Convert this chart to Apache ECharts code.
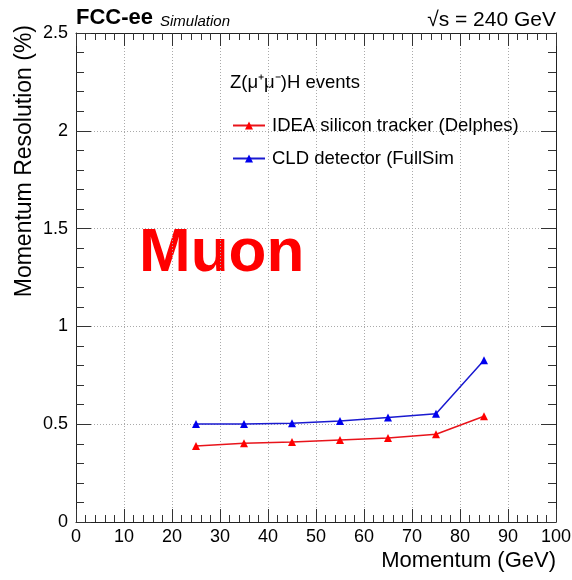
<!DOCTYPE html>
<html>
<head>
<meta charset="utf-8">
<script src="https://cdn.jsdelivr.net/npm/echarts@6/dist/echarts.min.js"></script>
<style>
html,body{margin:0;padding:0;background:#fff;}
#chart{width:572px;height:580px;}
</style>
</head>
<body>
<div id="chart"></div>
<script>
const momentum = [25, 35, 45, 55, 65, 75, 85];
const ideaRes = [0.389, 0.402, 0.409, 0.419, 0.429, 0.449, 0.541];
const cldRes = [0.501, 0.501, 0.505, 0.516, 0.534, 0.554, 0.827];
const seriesNames = ['IDEA silicon tracker (Delphes)', 'CLD detector (FullSim'];

const chart = echarts.init(document.getElementById('chart'));
const FONT = 'Liberation Sans, Arial, Helvetica, sans-serif';

function pairs(xs, ys){ return xs.map((x,i)=>[x, ys[i]]); }

const tickStyle = {color:'#333', width:1};
const baseX = {
  type:'value', min:0, max:100, interval:10,
  axisLine:{show:true, onZero:false, lineStyle:{color:'#222', width:1}},
  axisTick:{show:true, inside:true, length:13, lineStyle:tickStyle},
  minorTick:{show:true, splitNumber:5, length:7, lineStyle:tickStyle},
};
const baseY = {
  type:'value', min:0, max:2.5, interval:0.5,
  axisLine:{show:true, onZero:false, lineStyle:{color:'#222', width:1}},
  axisTick:{show:true, inside:true, length:15, lineStyle:tickStyle},
  minorTick:{show:true, splitNumber:5, length:8, lineStyle:tickStyle},
};

chart.setOption({
  animation:false,
  backgroundColor:'#fff',
  grid:{left:76, right:16, top:33, bottom:58, containLabel:false, outerBoundsMode:'none'},
  xAxis:[
    Object.assign({}, baseX, {
      position:'bottom',
      axisLabel:{show:true, fontFamily:FONT, fontSize:18, color:'#000', margin:6},
      splitLine:{show:true, lineStyle:{color:'#aaa', type:[1,2], width:1}}
    }),
    Object.assign({}, baseX, {
      position:'top',
      axisLabel:{show:false}, splitLine:{show:false}
    })
  ],
  yAxis:[
    Object.assign({}, baseY, {
      position:'left',
      axisLabel:{show:true, fontFamily:FONT, fontSize:18, color:'#000', margin:8},
      splitLine:{show:true, lineStyle:{color:'#aaa', type:[1,2], width:1}}
    }),
    Object.assign({}, baseY, {
      position:'right',
      axisLabel:{show:false}, splitLine:{show:false}
    })
  ],
  legend:{
    orient:'vertical', left:227, top:111, itemGap:14,
    itemWidth:32, itemHeight:10,
    textStyle:{fontFamily:FONT, fontSize:18.5, color:'#000', padding:[0,0,0,2]},
    data:seriesNames
  },
  series:[
    {
      name:seriesNames[0], type:'line', xAxisIndex:0, yAxisIndex:0,
      data:pairs(momentum, ideaRes),
      symbol:'triangle', symbolSize:8,
      lineStyle:{color:'#e8141b', width:1.5},
      itemStyle:{color:'#f00'}
    },
    {
      name:seriesNames[1], type:'line', xAxisIndex:0, yAxisIndex:0,
      data:pairs(momentum, cldRes),
      symbol:'triangle', symbolSize:8,
      lineStyle:{color:'#1a1ad0', width:1.5},
      itemStyle:{color:'#0000ee'}
    }
  ],
  graphic:[
    {type:'text', x:76, y:29, style:{text:'FCC-ee', font:'bold 22px ' + FONT, fill:'#000', verticalAlign:'bottom'}},
    {type:'text', x:160, y:29, style:{text:'Simulation', font:'italic 15px ' + FONT, fill:'#000', verticalAlign:'bottom'}},
    {type:'text', x:556, y:20, style:{text:'√s = 240 GeV', font:'21px ' + FONT, fill:'#000', align:'right', verticalAlign:'middle'}},
    {type:'text', x:230, y:83, style:{text:'Z(μ⁺μ⁻)H events', font:'18.5px ' + FONT, fill:'#000', verticalAlign:'middle'}},
    {type:'text', x:139, y:254, style:{text:'Muon', font:'bold 62px ' + FONT, fill:'#ff0000', verticalAlign:'middle'}},
    {type:'text', x:556, y:561, style:{text:'Momentum (GeV)', font:'22px ' + FONT, fill:'#000', align:'right', verticalAlign:'middle'}},
    {type:'text', x:25, y:25, rotation:Math.PI/2, style:{text:'Momentum Resolution (%)', font:'23px ' + FONT, fill:'#000', align:'right', verticalAlign:'middle'}}
  ]
});
</script>
</body>
</html>
